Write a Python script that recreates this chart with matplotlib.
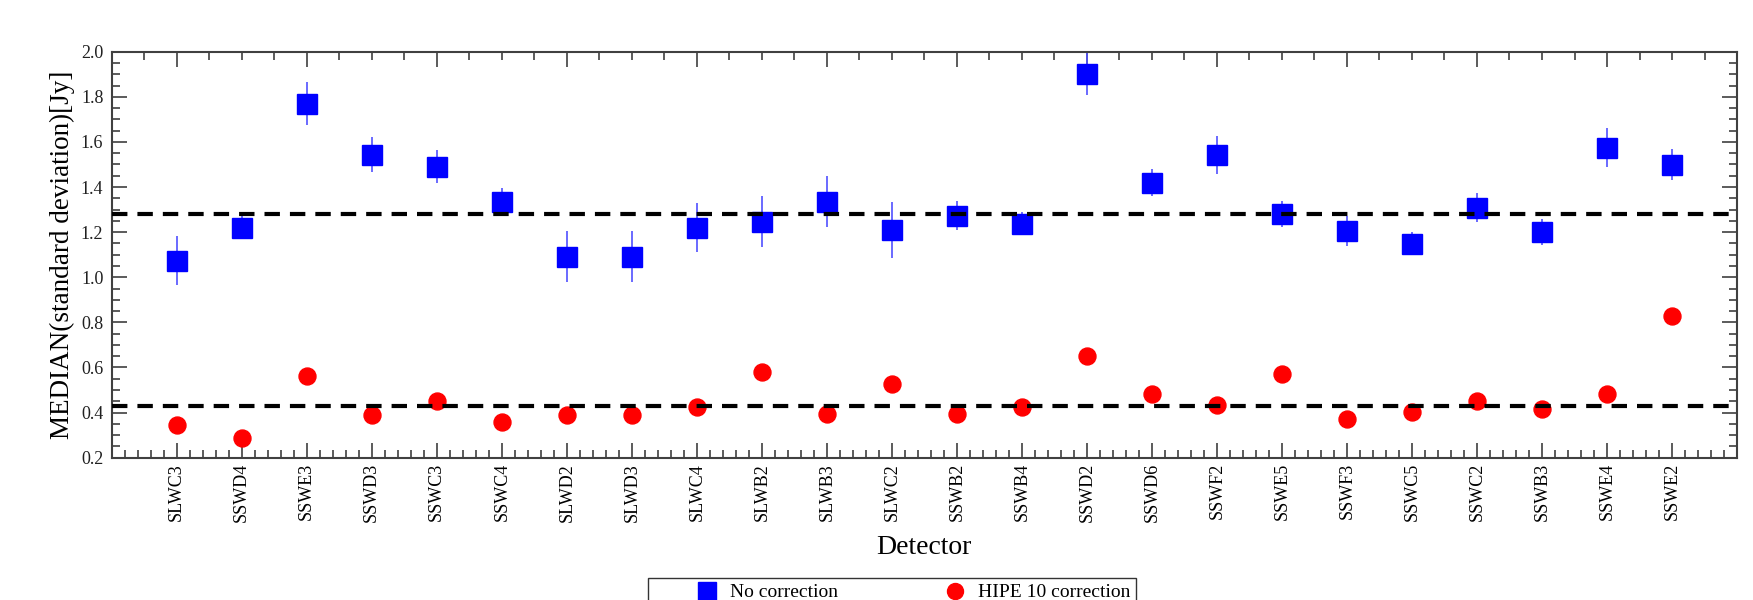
import numpy as np
import matplotlib
matplotlib.use("Agg")
from matplotlib import pyplot as plt
from matplotlib.ticker import MultipleLocator
from matplotlib.lines import Line2D

plt.rcParams["font.family"] = ["Liberation Serif", "DejaVu Serif"]

# data
detectors = ["SLWC3", "SSWD4", "SSWE3", "SSWD3", "SSWC3", "SSWC4", "SLWD2", "SLWD3",
             "SLWC4", "SLWB2", "SLWB3", "SLWC2", "SSWB2", "SSWB4", "SSWD2", "SSWD6",
             "SSWF2", "SSWE5", "SSWF3", "SSWC5", "SSWC2", "SSWB3", "SSWE4", "SSWE2"]

no_corr = [1.074, 1.220, 1.770, 1.543, 1.490, 1.334, 1.091, 1.091,
           1.220, 1.246, 1.335, 1.211, 1.273, 1.238, 1.903, 1.420,
           1.542, 1.282, 1.205, 1.149, 1.309, 1.201, 1.575, 1.499]
no_corr_err = [0.110, 0.050, 0.096, 0.078, 0.074, 0.060, 0.112, 0.114,
               0.108, 0.113, 0.113, 0.124, 0.064, 0.050, 0.093, 0.059,
               0.084, 0.057, 0.066, 0.050, 0.066, 0.058, 0.087, 0.070]
hipe10 = [0.343, 0.286, 0.563, 0.389, 0.450, 0.356, 0.388, 0.389,
          0.426, 0.581, 0.394, 0.526, 0.395, 0.426, 0.649, 0.481,
          0.433, 0.571, 0.371, 0.401, 0.450, 0.414, 0.481, 0.828]

no_corr_median = 1.28
hipe10_median = 0.43

x = np.arange(1, len(detectors) + 1)

fig = plt.figure(figsize=(17.53, 6.0), dpi=100)
ax = fig.add_axes([0.0637, 0.2372, 0.9272, 0.6766])

ax.errorbar(x, no_corr, yerr=no_corr_err, fmt="s", ms=14.8, mfc="#0000ff", mec="#0000ff",
            ecolor="#5050ff", elinewidth=1.2, capsize=0, zorder=2)
ax.plot(x, hipe10, "o", ms=12.2, color="#ff0000", zorder=2)

for lvl in (no_corr_median, hipe10_median):
    ax.axhline(lvl, color="black", lw=3, dashes=(3.7, 2.4), zorder=3)

ax.set_xlim(0, 25)
ax.set_ylim(0.2, 2.0)
ax.set_xticks(x)
ax.set_xticklabels(detectors, rotation=90, fontsize=13)
ax.xaxis.set_minor_locator(MultipleLocator(0.2))
ax.yaxis.set_major_locator(MultipleLocator(0.2))
ax.yaxis.set_minor_locator(MultipleLocator(0.05))
ax.yaxis.set_major_formatter(matplotlib.ticker.FormatStrFormatter("%.1f"))

edge = "#404040"
for sp in ax.spines.values():
    sp.set_color(edge)
    sp.set_linewidth(1.5)
ax.tick_params(which="both", direction="in", color=edge, width=1.2, top=False, right=True)
ax.tick_params(which="major", length=11, pad=4)
ax.tick_params(which="minor", length=5.5)
ax.tick_params(axis="y", labelsize=13, pad=6, labelcolor="#202020")

top = ax.secondary_xaxis("top")
top.xaxis.set_major_locator(MultipleLocator(2, offset=1))
top.xaxis.set_minor_locator(MultipleLocator(0.5))
top.tick_params(which="both", direction="in", color=edge, width=1.2, labeltop=False)
top.tick_params(which="major", length=11)
top.tick_params(which="minor", length=5.5)
top.spines["top"].set_visible(False)

ax.set_ylabel("MEDIAN(standard deviation)[Jy]", fontsize=19.5, labelpad=4)
ax.set_xlabel("Detector", fontsize=20, labelpad=9)

handles = [Line2D([], [], ls="none", marker="s", ms=13, color="#0000ff"),
           Line2D([], [], ls="none", marker="o", ms=11.5, color="#ff0000")]
labels = ["No correction", "HIPE 10 correction"]
leg = fig.legend(handles, labels, loc="upper center", bbox_to_anchor=(0.509, 0.0367), ncol=2,
                 fontsize=14, frameon=True, fancybox=False, edgecolor="black", borderpad=0.3,
                 handlelength=5.4, handletextpad=-1.5, columnspacing=3.3, borderaxespad=0)
leg.get_frame().set_linewidth(1.0)

fig.savefig("out.png", dpi=100)
